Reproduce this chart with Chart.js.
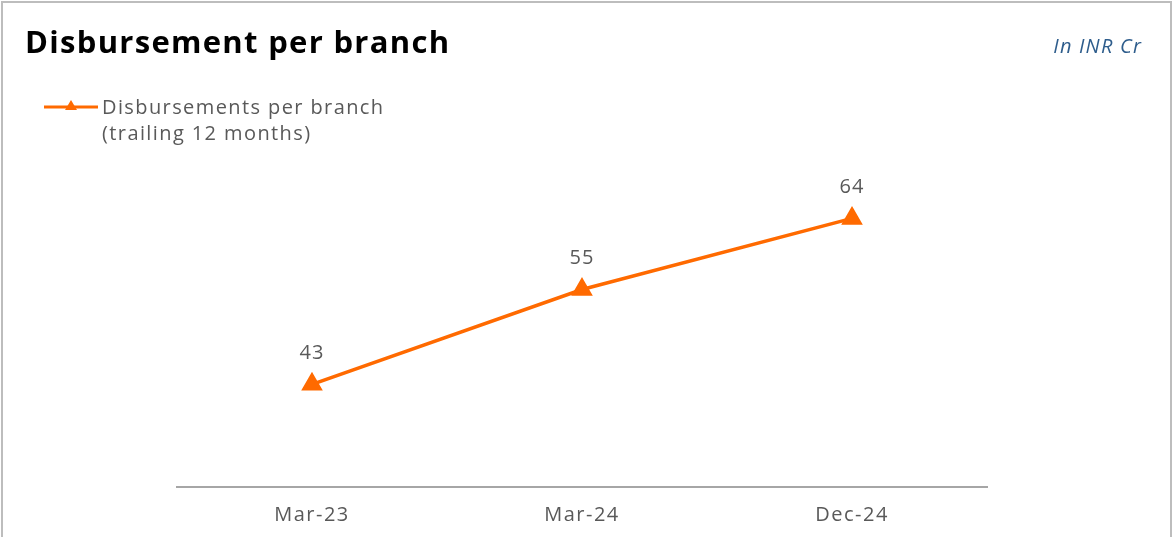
<!DOCTYPE html>
<html>
<head>
<meta charset="utf-8">
<script src="https://cdn.jsdelivr.net/npm/chart.js@4.4.1/dist/chart.umd.min.js"></script>
<style>
  html, body { margin: 0; padding: 0; background: #fff; }
  body { width: 1173px; height: 537px; position: relative; overflow: hidden; font-family: "Open Sans", sans-serif; }
  #frame { position: absolute; left: 1px; top: 1px; width: 1171px; height: 560px; border: 2px solid #bdbdbd; box-sizing: border-box; }
  #title { position: absolute; left: 25px; top: 20px; font-size: 31px; font-weight: bold; color: #000; letter-spacing: 1.3px; }
  #unit { position: absolute; right: 31px; top: 32px; font-size: 20px; font-style: italic; color: #2e5d8c; letter-spacing: 1.2px; }
  #legend { position: absolute; left: 44px; top: 94px; display: flex; }
  #legend .txt { font-size: 20px; color: #595959; line-height: 26px; margin-left: 4px; letter-spacing: 1.4px; }
  #wrap { position: absolute; left: 0; top: 0; width: 1173px; height: 537px; }
</style>
</head>
<body>
<div id="frame"></div>
<div id="wrap"><canvas id="chart"></canvas></div>
<div id="title">Disbursement per branch</div>
<div id="unit">In INR Cr</div>
<div id="legend">
  <svg width="54" height="26"><line x1="0" y1="13" x2="54" y2="13" stroke="#ff6a00" stroke-width="3"/><polygon points="27,6 33,16 21,16" fill="#ff6a00"/></svg>
  <div class="txt">Disbursements per branch<br>(trailing 12 months)</div>
</div>
<script>
// データ
var periods = ['Mar-23', 'Mar-24', 'Dec-24'];
var perBranch = [43, 55, 64];

// 文字間を少し広げる（元の図のフォントに近づける）
var spacing = {
    id: 'spacing',
    beforeDraw: function (chart) {
        if ('letterSpacing' in chart.ctx) chart.ctx.letterSpacing = '1.5px';
    }
};

// 点の上に値を描く
var valueLabels = {
    id: 'valueLabels',
    afterDatasetsDraw: function (chart) {
        var ctx = chart.ctx;
        var meta = chart.getDatasetMeta(0);
        ctx.save();
        ctx.font = '20px "Open Sans"';
        ctx.fillStyle = '#595959';
        ctx.textAlign = 'center';
        ctx.textBaseline = 'middle';
        if ('letterSpacing' in ctx) ctx.letterSpacing = '1px';
        meta.data.forEach(function (pt, i) {
            ctx.fillText(perBranch[i], pt.x, pt.y - 31);
        });
        ctx.restore();
    }
};

var ctx = document.getElementById('chart').getContext('2d');
var chart = new Chart(ctx, {
    type: 'line',
    data: {
        labels: periods,
        datasets: [{
            label: 'Disbursements per branch (trailing 12 months)',
            data: perBranch,
            borderColor: '#ff6a00',
            backgroundColor: '#ff6a00',
            borderWidth: 3.5,
            pointStyle: 'triangle',
            pointRadius: 9,
            pointHoverRadius: 9,
            tension: 0
        }]
    },
    options: {
        responsive: true,
        maintainAspectRatio: false,
        animation: false,
        layout: { padding: { left: 177, right: 186, top: 92, bottom: 0 } },
        scales: {
            x: {
                offset: true,
                grid: { display: false },
                border: { color: '#a6a6a6', width: 2 },
                ticks: { color: '#595959', font: { size: 20, family: 'Open Sans' }, padding: 8 },
                afterFit: function (scale) { scale.height = 50; }
            },
            y: {
                display: false,
                min: 30,
                max: 80
            }
        },
        plugins: {
            legend: { display: false },
            tooltip: { enabled: false }
        }
    },
    plugins: [spacing, valueLabels]
});
</script>
</body>
</html>
